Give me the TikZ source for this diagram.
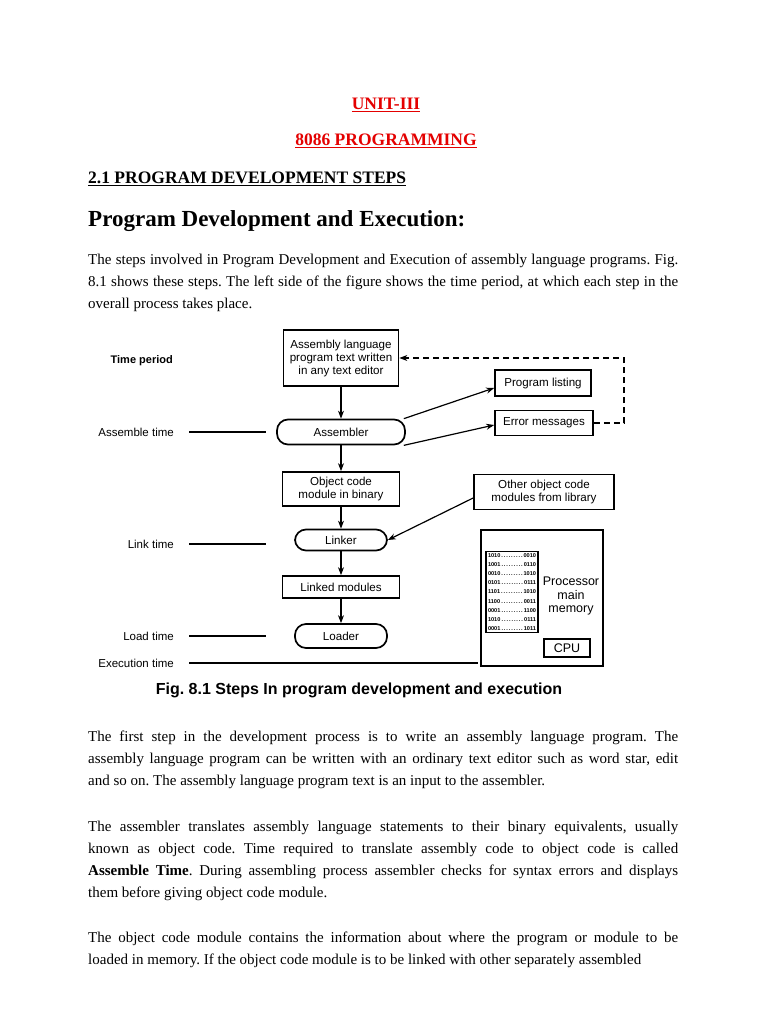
\documentclass[tikz,border=0pt]{standalone}
\usepackage{fontspec}
\setmainfont{Liberation Serif}
\newfontfamily\arial{Liberation Sans}
\usetikzlibrary{arrows.meta}
\definecolor{headred}{RGB}{228,0,0}
\frenchspacing

\begin{document}
\begin{tikzpicture}[
  x=1pt,y=-1pt,
  heading/.style={font=\bfseries\fontsize{17.5}{20}\selectfont,inner sep=0pt,anchor=base},
  para/.style={font=\fontsize{15}{22}\selectfont,text width=590pt,align=justify,inner sep=0pt,anchor=base west},
  flowbox/.style={draw,line width=1.7pt,font=\arial\fontsize{11.6}{13}\selectfont,align=center,inner sep=1pt},
  pill/.style={flowbox,rounded corners=11pt},
  timelabel/.style={font=\arial\fontsize{11.5}{13}\selectfont,anchor=east,inner sep=0pt},
  timeline/.style={line width=1.1pt},
  flow/.style={line width=1.2pt,-{Stealth[length=8pt,width=6pt]}}
]
  \useasboundingbox[fill=white] (0,0) rectangle (768,1024);

  % page headings
  \node[heading,text=headred] (unit) at (386,110) {\underline{UNIT-III}};
  \node[heading,text=headred] (prog) at (386,146) {\underline{8086 PROGRAMMING}};
  \node[heading,anchor=base west] (steps) at (88,184) {\underline{2.1 PROGRAM DEVELOPMENT STEPS}};
  \node[font=\bfseries\fontsize{23}{26}\selectfont,inner sep=0pt,anchor=base west] (title) at (88,226) {Program Development and Execution:};

  \node[para] (intro) at (88,264) {The steps involved in Program Development and Execution of assembly language programs. Fig.\linebreak
    8.1 shows these steps. The left side of the figure shows the time period, at which each step in the\linebreak
    overall process takes place.};

  % time periods
  \node[timelabel,font=\arial\bfseries\fontsize{11}{13}\selectfont] (tperiod) at (173,361) {Time period};
  \node[timelabel] (tasm) at (174,432) {Assemble time};
  \node[timelabel] (tlink) at (174,544) {Link time};
  \node[timelabel] (tload) at (174,636) {Load time};
  \node[timelabel] (texec) at (174,663) {Execution time};
  \coordinate (asmend) at (266,432);
  \coordinate (linkend) at (266,544);
  \coordinate (loadend) at (266,636);
  \coordinate (execend) at (478,663);
  \draw[timeline] ([xshift=15pt]tasm.east) -- (asmend);
  \draw[timeline] ([xshift=15pt]tlink.east) -- (linkend);
  \draw[timeline] ([xshift=15pt]tload.east) -- (loadend);
  \draw[timeline] ([xshift=15pt]texec.east) -- (execend);

  % main flow
  \node[flowbox,minimum width=115pt,minimum height=56pt] (editor) at (341,358) {Assembly language\\program text written\\in any text editor};
  \node[pill,minimum width=128pt,minimum height=25pt] (asm) at (341,432) {Assembler};
  \node[flowbox,minimum width=96pt,minimum height=26pt] (listing) at (543,383) {Program listing};
  \node[flowbox,minimum width=98pt,minimum height=25pt] (errors) at (544,423) {Error messages};
  \node[flowbox,minimum width=117pt,minimum height=34pt] (objcode) at (341,489) {Object code\\module in binary};
  \node[flowbox,minimum width=140pt,minimum height=35pt] (library) at (544,492) {Other object code\\modules from library};
  \node[pill,minimum width=92pt,minimum height=21pt] (linker) at (341,540) {Linker};
  \node[flowbox,minimum width=117pt,minimum height=22pt] (linked) at (341,587) {Linked modules};
  \node[pill,minimum width=92pt,minimum height=24pt] (loader) at (341,636) {Loader};
  \coordinate (dashturn) at (624,423);

  \draw[flow] (editor) -- (asm);
  \draw[flow] (asm.12) -- ([yshift=-5pt]listing.west);
  \draw[flow] (asm.-12) -- ([yshift=-2pt]errors.west);
  \draw[flow,dash pattern=on 6pt off 4pt] (errors.east) -- (dashturn) |- (editor.east);
  \draw[flow] (asm) -- (objcode);
  \draw[flow] (objcode) -- (linker);
  \draw[flow] ([yshift=-6pt]library.west) -- (linker.east);
  \draw[flow] (linker) -- (linked);
  \draw[flow] (linked) -- (loader);

  % processor and memory
  \node[draw,line width=1.6pt,minimum width=122pt,minimum height=136pt] (cpubox) at (542,598) {};
  \node[draw,line width=1.1pt,text width=48pt,inner sep=2pt,align=left,
        font=\arial\bfseries\fontsize{5.6}{9.1}\selectfont] (memtable) at (512,592)
    {1010\dotfill0010\\1001\dotfill0110\\0010\dotfill1010\\0101\dotfill0111\\1101\dotfill1010\\
     1100\dotfill0011\\0001\dotfill1100\\1010\dotfill0111\\0001\dotfill1011};
  \node[font=\arial\fontsize{12.5}{13.5}\selectfont,align=center,inner sep=0pt] (mainmem) at (571,596) {Processor\\main\\memory};
  \node[flowbox,minimum width=46pt,minimum height=18pt,font=\arial\fontsize{12.5}{13.5}\selectfont] (cpu) at (567,648) {CPU};

  \node[font=\arial\bfseries\fontsize{16}{18}\selectfont,inner sep=0pt] (caption) at (359,690) {Fig. 8.1 Steps In program development and execution};

  % text after the figure
  \node[para] (step1) at (88,741) {The first step in the development process is to write an assembly language program. The\linebreak
    assembly language program can be written with an ordinary text editor such as word star, edit\linebreak
    and so on. The assembly language program text is an input to the assembler.};
  \node[para] (step2) at (88,831) {The assembler translates assembly language statements to their binary equivalents, usually\linebreak
    known as object code. Time required to translate assembly code to object code is called\linebreak
    \textbf{Assemble Time}. During assembling process assembler checks for syntax errors and displays\linebreak
    them before giving object code module.};
  \node[para] (step3) at (88,942) {\parfillskip=0pt The object code module contains the information about where the program or module to be\linebreak
    loaded in memory. If the object code module is to be linked with other separately assembled};
\end{tikzpicture}
\end{document}
